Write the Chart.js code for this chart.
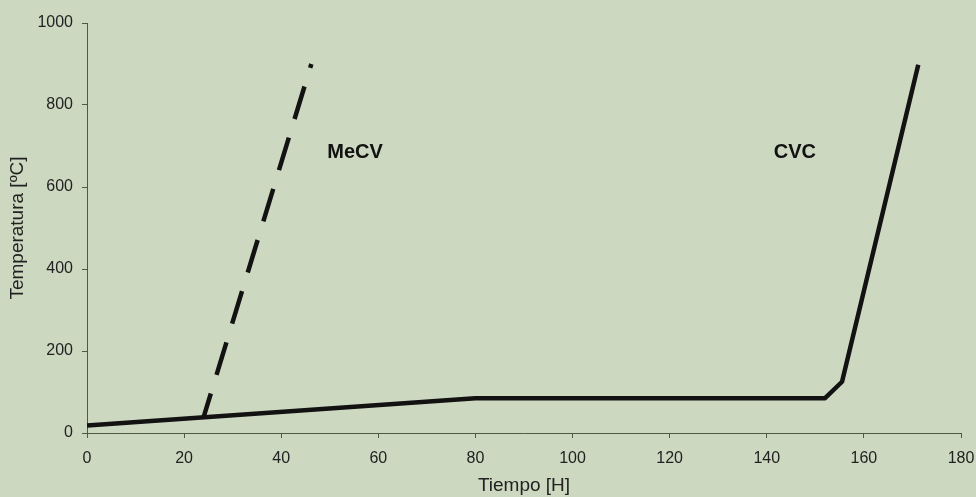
<!DOCTYPE html>
<html>
<head>
<meta charset="utf-8">
<script src="https://cdn.jsdelivr.net/npm/chart.js@4.4.1/dist/chart.umd.min.js"></script>
<style>
  html, body { margin: 0; padding: 0; background: rgb(204,216,192); }
  #wrap { width: 976px; height: 497px; position: relative; }
</style>
</head>
<body>
<div id="wrap"><canvas id="c" width="976" height="497"></canvas></div>
<script>
// Data
const cvcTime = [0, 80, 152, 155.5, 171.2];
const cvcTemp = [18, 85, 85, 125, 898];
const mecvTime = [24, 46.2];
const mecvTemp = [38, 900];
const xTickValues = [0, 20, 40, 60, 80, 100, 120, 140, 160, 180];
const yTickValues = [0, 200, 400, 600, 800, 1000];
const seriesLabels = ['CVC', 'MeCV'];
const labelPos = { MeCV: [55.2, 683], CVC: [145.8, 683] };

const toPts = (xs, ys) => xs.map((x, i) => ({ x: x, y: ys[i] }));

const ink = '#121212';
const axisColor = '#4d5a48';
const textColor = '#222';
const fam = '"Liberation Sans", Arial, sans-serif';

const annotate = {
  id: 'annotate',
  afterDatasetsDraw(chart) {
    const ctx = chart.ctx, xs = chart.scales.x, ys = chart.scales.y;
    ctx.save();
    ctx.fillStyle = '#111';
    ctx.font = 'bold 20px ' + fam;
    ctx.textAlign = 'center';
    ctx.textBaseline = 'middle';
    Object.keys(labelPos).forEach(k => {
      const p = labelPos[k];
      ctx.fillText(k, xs.getPixelForValue(p[0]), ys.getPixelForValue(p[1]));
    });
    ctx.restore();
  }
};

new Chart(document.getElementById('c'), {
  type: 'scatter',
  data: {
    datasets: [
      {
        label: seriesLabels[0],
        data: toPts(cvcTime, cvcTemp),
        showLine: true,
        borderColor: ink,
        borderWidth: 4.5,
        pointRadius: 0,
        tension: 0,
        borderJoinStyle: 'round'
      },
      {
        label: seriesLabels[1],
        data: toPts(mecvTime, mecvTemp),
        showLine: true,
        borderColor: ink,
        borderWidth: 4.5,
        borderDash: [34, 19.5],
        borderDashOffset: 9,
        borderCapStyle: 'butt',
        pointRadius: 0,
        tension: 0
      }
    ]
  },
  options: {
    responsive: false,
    animation: false,
    layout: { padding: { top: 23, right: 15, left: 0, bottom: 0 } },
    plugins: { legend: { display: false }, tooltip: { enabled: false } },
    scales: {
      x: {
        type: 'linear',
        min: 0, max: 180,
        afterBuildTicks: s => { s.ticks = xTickValues.map(v => ({ value: v })); },
        afterFit: s => { s.height = 64; s.paddingLeft = 0; s.paddingRight = 0; },
        grid: { display: true, drawOnChartArea: false, drawTicks: true, tickLength: 5, color: axisColor },
        border: { display: true, color: axisColor, width: 1 },
        ticks: { color: textColor, font: { family: fam, size: 16 }, padding: 11, maxRotation: 0, callback: v => String(v) },
        title: { display: true, text: 'Tiempo [H]', color: textColor, font: { family: fam, size: 19 }, padding: { top: 4, bottom: 0 } }
      },
      y: {
        type: 'linear',
        min: 0, max: 1000,
        afterBuildTicks: s => { s.ticks = yTickValues.map(v => ({ value: v })); },
        afterFit: s => { s.width = 87; s.paddingTop = 0; s.paddingBottom = 0; },
        grid: { display: true, drawOnChartArea: false, drawTicks: true, tickLength: 5, color: axisColor },
        border: { display: true, color: axisColor, width: 1 },
        ticks: { color: textColor, font: { family: fam, size: 16 }, padding: 9, callback: v => String(v) },
        title: { display: true, text: 'Temperatura [ºC]', color: textColor, font: { family: fam, size: 19 }, padding: { top: 6, bottom: 0 } }
      }
    }
  },
  plugins: [annotate]
});
</script>
</body>
</html>
